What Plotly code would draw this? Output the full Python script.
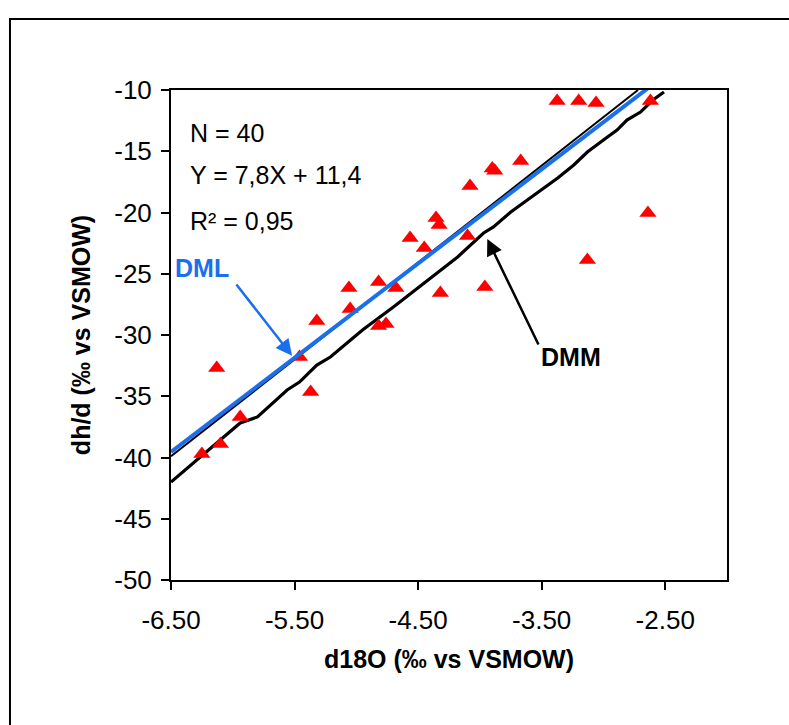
import plotly.graph_objects as go

# ---- data ----
d18O = [-3.375, -3.20, -3.06, -2.62, -3.90, -3.88, -3.67, -4.08, -2.64, -4.355,
        -4.33, -4.10, -4.565, -4.45, -3.13, -3.96, -4.32, -4.82, -5.06, -4.68,
        -5.05, -5.32, -4.82, -4.76, -5.46, -6.13, -5.37, -5.94, -6.10, -6.25]
dD = [-10.9, -10.9, -11.06, -10.9, -16.4, -16.6, -15.8, -17.84, -20.04, -20.45,
      -21.02, -21.92, -22.08, -22.9, -23.88, -26.08, -26.57, -25.67, -26.16, -26.16,
      -27.88, -28.86, -29.27, -29.1, -31.8, -32.69, -34.65, -36.69, -38.9, -39.71]

# regression line (thin black, under DML)
reg_x = [-6.5, -2.72]
reg_y = [-39.9, -10.0]

# DML (blue)
dml_x = [-6.5, -2.62]
dml_y = [-39.55, -9.7]

# DMM (hand-drawn black line)
dmm_x = [-6.5, -5.94, -5.80, -5.56, -5.46, -5.32, -5.21, -5.07, -4.95, -4.70,
         -4.32, -4.18, -3.97, -3.89, -3.75, -3.65, -3.51, -3.37, -3.24, -3.13,
         -3.00, -2.89, -2.81, -2.70, -2.60, -2.51]
dmm_y = [-42.0, -37.18, -36.69, -34.49, -33.84, -32.45, -31.80, -30.57, -29.59, -27.71,
         -24.69, -23.63, -21.67, -21.18, -19.96, -19.22, -18.16, -17.18, -16.12, -15.06,
         -14.08, -13.27, -12.45, -11.80, -10.82, -10.16]

x_tickvals = [-6.5, -5.5, -4.5, -3.5, -2.5]
x_ticktext = ["-6.50", "-5.50", "-4.50", "-3.50", "-2.50"]
y_tickvals = [-50, -45, -40, -35, -30, -25, -20, -15, -10]
y_ticktext = ["-50", "-45", "-40", "-35", "-30", "-25", "-20", "-15", "-10"]

BLUE = "#1a70ea"
FONT = "Arial, Liberation Sans, sans-serif"

fig = go.Figure()
fig.add_trace(go.Scatter(x=dmm_x, y=dmm_y, mode="lines",
                         line=dict(color="black", width=3.2), showlegend=False))
fig.add_trace(go.Scatter(x=reg_x, y=reg_y, mode="lines",
                         line=dict(color="black", width=2), showlegend=False))
fig.add_trace(go.Scatter(x=d18O, y=dD, mode="markers",
                         marker=dict(symbol="triangle-up", size=15, color="#ff0000",
                                     line=dict(width=0)), showlegend=False))
fig.add_trace(go.Scatter(x=dml_x, y=dml_y, mode="lines",
                         line=dict(color=BLUE, width=4), showlegend=False,
                         cliponaxis=False))

ann = []
for txt, yy in [("N = 40", -13.5), ("Y = 7,8X + 11,4", -16.9), ("R² = 0,95", -20.7)]:
    ann.append(dict(x=-6.36, y=yy, xref="x", yref="y", text=txt, showarrow=False,
                    xanchor="left", yanchor="middle",
                    font=dict(family=FONT, size=25, color="black")))
ann.append(dict(x=-6.25, y=-24.5, xref="x", yref="y", text="<b>DML</b>", showarrow=False,
                font=dict(family=FONT, size=25, color=BLUE)))
ann.append(dict(x=-3.26, y=-31.8, xref="x", yref="y", text="<b>DMM</b>", showarrow=False,
                font=dict(family=FONT, size=25, color="black")))
ann.append(dict(x=-5.52, y=-31.7, ax=-5.98, ay=-25.76, xref="x", yref="y",
                axref="x", ayref="y", text="", showarrow=True, arrowhead=2,
                arrowsize=1.3, arrowwidth=2.5, arrowcolor=BLUE))
ann.append(dict(x=-3.94, y=-22.16, ax=-3.52, ay=-30.9, xref="x", yref="y",
                axref="x", ayref="y", text="", showarrow=True, arrowhead=2,
                arrowsize=1.3, arrowwidth=2.5, arrowcolor="black"))

fig.update_layout(
    width=789, height=725,
    margin=dict(l=171, r=62, t=90, b=145),
    paper_bgcolor="white", plot_bgcolor="white",
    font=dict(family=FONT, size=25, color="black"),
    annotations=ann,
    shapes=[dict(type="path", xref="paper", yref="paper",
                 path="M -0.2896,-0.4 L -0.2896,1.1449 L 1.3,1.1449",
                 line=dict(color="black", width=2), layer="below")],
)
fig.update_xaxes(range=[-6.5, -2.0], tickvals=x_tickvals, ticktext=x_ticktext,
                 showgrid=False, zeroline=False, showline=True, linecolor="black",
                 linewidth=2, mirror=True, ticks="outside", ticklen=8, tickwidth=1.5,
                 tickcolor="black", ticklabelstandoff=8,
                 tickfont=dict(family=FONT, size=26),
                 title=dict(text="<b>d18O (‰ vs VSMOW)</b>", standoff=16,
                            font=dict(family=FONT, size=25)))
fig.update_yaxes(range=[-50, -10], tickvals=y_tickvals, ticktext=y_ticktext,
                 showgrid=False, zeroline=False, showline=True, linecolor="black",
                 linewidth=2, mirror=True, ticks="outside", ticklen=8, tickwidth=1.5,
                 tickcolor="black", ticklabelstandoff=4,
                 tickfont=dict(family=FONT, size=26),
                 title=dict(text="<b>dh/d (‰ vs VSMOW)</b>", standoff=16,
                            font=dict(family=FONT, size=25)))

fig.write_html("out.html",
               config={"displayModeBar": False},
               post_script="document.body.style.margin='0';"
                           "document.body.style.overflow='hidden';")
